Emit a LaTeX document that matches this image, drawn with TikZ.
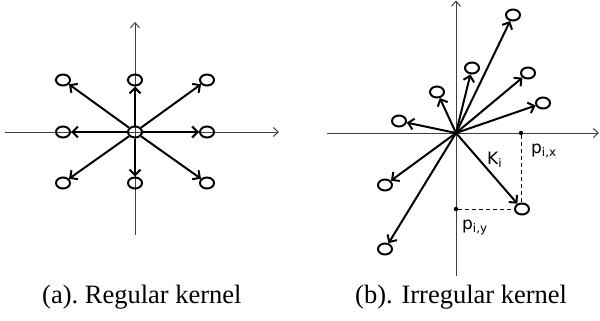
\documentclass[tikz,border=0pt]{standalone}
\usepackage{fontspec}
\setmainfont{Liberation Serif}
\newfontfamily\capfont{Liberation Serif}
\newfontfamily\lblfont{DejaVu Sans}
\usetikzlibrary{arrows.meta,shapes.geometric}
\begin{document}
\begin{tikzpicture}[x=1pt,y=-1pt,
  ring/.style={draw,ellipse,line width=2pt,minimum width=14pt,minimum height=11pt,inner sep=0pt},
  vec/.style={line width=2pt,-{Straight Barb[length=5.5pt,width=11pt]}},
  axisline/.style={line width=1pt,black!75,-{Straight Barb[length=5pt,width=9pt]}},
  lbl/.style={font=\lblfont\fontsize{17}{20}\selectfont,inner sep=0pt},
  captxt/.style={font=\capfont\fontsize{26.5}{30}\selectfont,inner sep=0pt},
  dotmark/.style={circle,fill,inner sep=0pt,minimum size=4.5pt},
  guide/.style={line width=1pt,dash pattern=on 4pt off 3pt}]
\useasboundingbox (0,0) rectangle (600,321);
% ---------- (a) regular kernel ----------
\coordinate (axaw) at (5,132);
\coordinate (axae) at (279,132);
\coordinate (axas) at (135,235);
\coordinate (axan) at (135,22);
\draw[axisline] (axaw) -- (axae);
\draw[axisline] (axas) -- (axan);
\node[ring] (a0) at (135,132) {};
\node[ring] (a1) at (63,80) {};
\node[ring] (a2) at (135,80) {};
\node[ring] (a3) at (207,80) {};
\node[ring] (a4) at (63,132) {};
\node[ring] (a5) at (207,132) {};
\node[ring] (a6) at (63,183) {};
\node[ring] (a7) at (135,183) {};
\node[ring] (a8) at (207,183) {};
\foreach \n in {a1,a2,a3,a4,a5,a6,a7,a8}
  \draw[vec] (a0) -- (\n);
% ---------- (b) irregular kernel ----------
\coordinate (axbw) at (327,133);
\coordinate (axbe) at (599,133);
\coordinate (axbs) at (456,276);
\coordinate (axbn) at (456,0.5);
\draw[axisline] (axbw) -- (axbe);
\draw[axisline] (axbs) -- (axbn);
\coordinate (o) at (456,133);
\node[ring] (b1) at (513,15) {};
\node[ring] (b2) at (472,68) {};
\node[ring] (b3) at (437,92) {};
\node[ring] (b4) at (528,73) {};
\node[ring] (b5) at (543,103) {};
\node[ring] (b6) at (399,121) {};
\node[ring] (b7) at (385,185) {};
\node[ring] (b8) at (522,209) {};
\node[ring] (b9) at (385,249) {};
\foreach \n in {b1,b2,b3,b4,b5,b6,b7,b8,b9}
  \draw[vec] (o) -- (\n);
\node[dotmark] (px) at (521,133) {};
\node[dotmark] (py) at (456,209) {};
\draw[guide] (px) -- (px |- b8.north);
\draw[guide] (py) -- (b8.west);
\node[lbl,anchor=base west] (lpx) at (531,153) {p\textsubscript{i,x}};
\node[lbl,anchor=base west] (lk) at (487,164.5) {K\textsubscript{i}};
\node[lbl,anchor=base west] (lpy) at (462,229) {p\textsubscript{i,y}};
% ---------- captions ----------
\node[captxt,anchor=base west] (capa) at (42,303) {(a).\ Regular kernel};
\node[captxt,anchor=base west] (capb) at (355,303) {(b). Irregular kernel};
\end{tikzpicture}
\end{document}
